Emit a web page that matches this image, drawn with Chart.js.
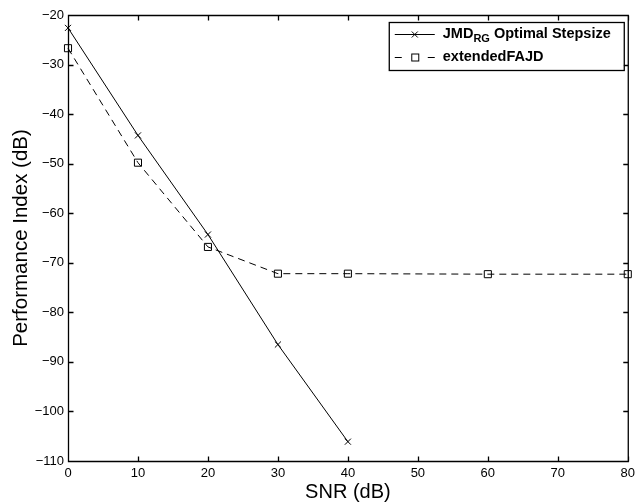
<!DOCTYPE html>
<html>
<head>
<meta charset="utf-8">
<title>Performance Index vs SNR</title>
<script src="https://cdn.jsdelivr.net/npm/chart.js@4.4.1/dist/chart.umd.min.js"></script>
<style>
  body { margin: 0; background: #fff; }
  canvas { display: block; }
</style>
</head>
<body>
<canvas id="myChart" width="640" height="504"></canvas>
<script>
'use strict';

// Data
const snrJmd = [0, 10, 20, 30, 40];
const perfJmd = [-22.6, -44.3, -64.3, -86.5, -106.1];
const snrFajd = [0, 10, 20, 30, 40, 60, 80];
const perfFajd = [-26.7, -49.8, -66.8, -72.2, -72.2, -72.3, -72.3];

const xTicks = [0, 10, 20, 30, 40, 50, 60, 70, 80];
const yTicks = [-110, -100, -90, -80, -70, -60, -50, -40, -30, -20];

// legend text, first one has a subscript
const jmdLabelParts = ['JMD', 'RG', ' Optimal Stepsize'];
const fajdLabel = 'extendedFAJD';
const xTitle = 'SNR (dB)';
const yTitle = 'Performance Index (dB)';

const FONT = "'Liberation Sans', Arial, Helvetica, sans-serif";

function toPoints(xs, ys) {
  let pts = [];
  for (let i = 0; i < xs.length; i++) {
    pts.push({ x: xs[i], y: ys[i] });
  }
  return pts;
}

function minusSign(v) {
  return String(v).replace('-', '\u2212');
}

// box around the plot + inward ticks on all four sides (matlab look)
const framePlugin = {
  id: 'frame',
  afterDraw(chart) {
    const ctx = chart.ctx;
    const a = chart.chartArea;
    const xs = chart.scales.x;
    const ys = chart.scales.y;
    const tick = 5;
    ctx.save();
    ctx.strokeStyle = '#000';
    ctx.lineWidth = 1.3;
    ctx.beginPath();
    ctx.rect(a.left + 0.5, a.top + 0.5, a.right - a.left, a.bottom - a.top);
    for (let i = 0; i < xTicks.length; i++) {
      const px = Math.round(xs.getPixelForValue(xTicks[i])) + 0.5;
      ctx.moveTo(px, a.bottom + 0.5);
      ctx.lineTo(px, a.bottom + 0.5 - tick);
      ctx.moveTo(px, a.top + 0.5);
      ctx.lineTo(px, a.top + 0.5 + tick);
    }
    for (let i = 0; i < yTicks.length; i++) {
      const py = Math.round(ys.getPixelForValue(yTicks[i])) + 0.5;
      ctx.moveTo(a.left + 0.5, py);
      ctx.lineTo(a.left + 0.5 + tick, py);
      ctx.moveTo(a.right + 0.5, py);
      ctx.lineTo(a.right + 0.5 - tick, py);
    }
    ctx.stroke();
    ctx.restore();
  }
};

// legend box in the upper right corner
const legendPlugin = {
  id: 'boxLegend',
  afterDraw(chart) {
    const ctx = chart.ctx;
    const a = chart.chartArea;
    const bx = a.right - 239;
    const by = a.top + 7;
    const bw = 235;
    const bh = 48;
    ctx.save();
    ctx.fillStyle = '#fff';
    ctx.fillRect(bx, by, bw, bh);
    ctx.strokeStyle = '#000';
    ctx.lineWidth = 1.3;
    ctx.strokeRect(bx + 0.5, by + 0.5, bw, bh);

    const lx = bx + 6;   // start of sample line
    const mx = lx + 20;  // marker
    const tx = lx + 48;  // text
    const row1 = by + 12;
    const row2 = by + 35;

    ctx.lineWidth = 1;
    // solid line with x
    ctx.beginPath();
    ctx.moveTo(lx, row1 + 0.5);
    ctx.lineTo(lx + 40, row1 + 0.5);
    ctx.moveTo(mx - 3, row1 - 2.5);
    ctx.lineTo(mx + 3, row1 + 3.5);
    ctx.moveTo(mx + 3, row1 - 2.5);
    ctx.lineTo(mx - 3, row1 + 3.5);
    ctx.stroke();

    // dashed line with square
    ctx.beginPath();
    ctx.moveTo(lx, row2 + 0.5);
    ctx.lineTo(lx + 7, row2 + 0.5);
    ctx.moveTo(lx + 33, row2 + 0.5);
    ctx.lineTo(lx + 40, row2 + 0.5);
    ctx.stroke();
    ctx.strokeRect(mx - 3, row2 - 3, 7, 7);

    ctx.fillStyle = '#000';
    ctx.textBaseline = 'middle';
    ctx.textAlign = 'left';
    ctx.font = 'bold 14.5px ' + FONT;
    let x = tx;
    ctx.fillText(jmdLabelParts[0], x, row1);
    x += ctx.measureText(jmdLabelParts[0]).width;
    ctx.font = 'bold 11px ' + FONT;
    ctx.fillText(jmdLabelParts[1], x, row1 + 5);
    x += ctx.measureText(jmdLabelParts[1]).width;
    ctx.font = 'bold 14.5px ' + FONT;
    ctx.fillText(jmdLabelParts[2], x, row1);
    ctx.fillText(fajdLabel, tx, row2);
    ctx.restore();
  }
};

const ctx = document.getElementById('myChart');

let config = {
  type: 'line',
  data: {
    datasets: [
      {
        label: jmdLabelParts.join(''),
        data: toPoints(snrJmd, perfJmd),
        borderColor: '#000',
        borderWidth: 1,
        pointStyle: 'crossRot',
        pointRadius: 4.3,
        pointBorderColor: '#000',
        pointBorderWidth: 1,
        fill: false,
        clip: false
      },
      {
        label: fajdLabel,
        data: toPoints(snrFajd, perfFajd),
        borderColor: '#000',
        borderWidth: 1,
        borderDash: [7, 5],
        pointStyle: 'rect',
        pointRadius: 5,
        pointBackgroundColor: 'rgba(0,0,0,0)',
        pointBorderColor: '#000',
        pointBorderWidth: 1,
        fill: false,
        clip: false
      }
    ]
  },
  options: {
    responsive: false,
    animation: false,
    layout: { padding: { top: 15, right: 7, left: 0, bottom: 0 } },
    plugins: {
      legend: { display: false },
      tooltip: { enabled: false }
    },
    scales: {
      x: {
        type: 'linear',
        min: 0,
        max: 80,
        afterBuildTicks: s => { s.ticks = xTicks.map(v => ({ value: v })); },
        afterFit: s => { s.height = 43; },
        grid: { display: false, drawTicks: false },
        border: { display: false },
        ticks: {
          color: '#000',
          font: { family: FONT, size: 13 },
          padding: 5,
          maxRotation: 0,
          callback: v => minusSign(v)
        },
        title: {
          display: true,
          text: xTitle,
          color: '#000',
          font: { family: FONT, size: 20 },
          padding: { top: 0, bottom: 0 }
        }
      },
      y: {
        type: 'linear',
        min: -110,
        max: -20,
        afterBuildTicks: s => { s.ticks = yTicks.map(v => ({ value: v })); },
        afterFit: s => { s.width = 68; },
        grid: { display: false, drawTicks: false },
        border: { display: false },
        ticks: {
          color: '#000',
          font: { family: FONT, size: 13 },
          padding: 4,
          callback: v => minusSign(v)
        },
        title: {
          display: true,
          text: yTitle,
          color: '#000',
          font: { family: FONT, size: 20.5 },
          padding: { top: 9, bottom: 0 }
        }
      }
    }
  },
  plugins: [framePlugin, legendPlugin]
};

let chart = new Chart(ctx, config);
</script>
</body>
</html>
